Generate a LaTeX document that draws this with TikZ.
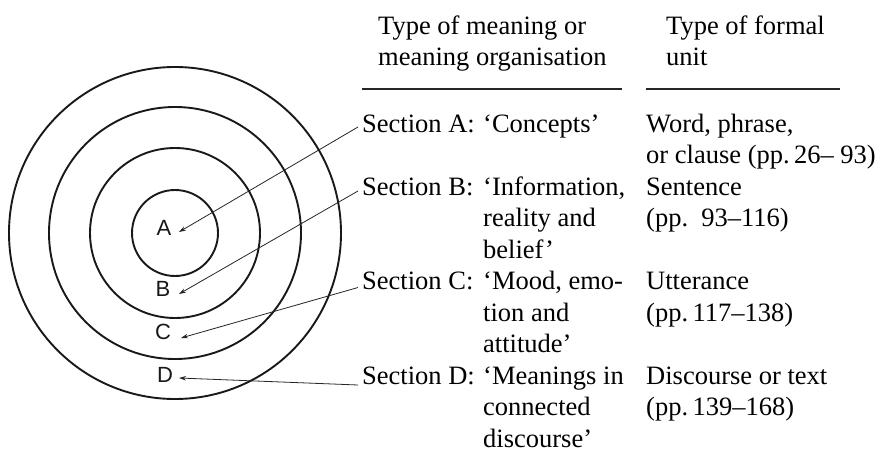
\documentclass[tikz,border=0pt]{standalone}
\usepackage{fontspec}
\setmainfont{Liberation Serif}
\newfontfamily\lettfont{Liberation Sans}
\usetikzlibrary{arrows.meta}
\tikzset{
  ring/.style={draw=black!90, line width=1.9pt},
  conn/.style={draw=black!85, line width=0.8pt, -{Stealth[length=7pt,width=4.5pt]}},
  rulestyle/.style={draw=black!85, line width=1.4pt},
  txt/.style={anchor=base west, inner sep=0pt, font=\fontsize{26.5}{31.5}\selectfont, text=black},
  lett/.style={anchor=center, inner sep=0pt, font=\lettfont\fontsize{22}{24}\selectfont, text=black!90}
}
\begin{document}
\begin{tikzpicture}[x=1pt,y=-1pt]
\useasboundingbox[fill=white] (0,0) rectangle (881,452);
% concentric circles
\coordinate (ctr) at (175,233);
\draw[ring] (ctr) circle (43pt);
\draw[ring] (ctr) circle (85pt);
\draw[ring] (ctr) circle (126pt);
\draw[ring] (ctr) circle (166pt);
% letters
\node[lett] (lA) at (164,228) {A};
\node[lett] (lB) at (163,289) {B};
\node[lett] (lC) at (163,332) {C};
\node[lett] (lD) at (165,375) {D};
\coordinate (tA) at (179,232);
\coordinate (tB) at (179,294);
\coordinate (tC) at (181,338);
\coordinate (tD) at (179,378);
% headers
\node[txt] (h1a) at (378,35) {Type of meaning or};
\node[txt] (h1b) at (378,66) {meaning organisation};
\node[txt] (h2a) at (666,35) {Type of formal};
\node[txt] (h2b) at (666,66) {unit};
\coordinate (r1s) at (362,89); \coordinate (r1e) at (622,89);
\coordinate (r2s) at (646,89); \coordinate (r2e) at (840,89);
\draw[rulestyle] (r1s) -- (r1e);
\draw[rulestyle] (r2s) -- (r2e);
% column 1
\node[txt] (sA) at (362,132) {Section A:};
\node[txt] (dA) at (483,132) {‘Concepts’};
\node[txt] (sB) at (362,195) {Section B:};
\node[txt] (dB1) at (483,195) {‘Information,};
\node[txt] (dB2) at (483,226.5) {reality and};
\node[txt] (dB3) at (483,258) {belief’};
\node[txt] (sC) at (362,289.5) {Section C:};
\node[txt] (dC1) at (483,289.5) {‘Mood, emo-};
\node[txt] (dC2) at (483,321) {tion and};
\node[txt] (dC3) at (483,352.5) {attitude’};
\node[txt] (sD) at (362,384) {Section D:};
\node[txt] (dD1) at (483,384) {‘Meanings in};
\node[txt] (dD2) at (483,415.5) {connected};
\node[txt] (dD3) at (483,447) {discourse’};
% column 2
\node[txt] (uA1) at (646,132) {Word, phrase,};
\node[txt] (uA2) at (646,163.5) {or clause (pp.\,26– 93)};
\node[txt] (uB1) at (646,195) {Sentence};
\node[txt] (uB2) at (646,226.5) {(pp.\ \ 93–116)};
\node[txt] (uC1) at (646,289.5) {Utterance};
\node[txt] (uC2) at (646,321) {(pp.\,117–138)};
\node[txt] (uD1) at (646,384) {Discourse or text};
\node[txt] (uD2) at (646,415.5) {(pp.\,139–168)};
% connectors
\coordinate (eA) at ([xshift=-4pt,yshift=5pt]sA.base west);
\coordinate (eB) at ([xshift=-4pt,yshift=4pt]sB.base west);
\coordinate (eC) at ([xshift=-4pt,yshift=2pt]sC.base west);
\coordinate (eD) at ([xshift=-4pt,yshift=-1pt]sD.base west);
\draw[conn] (eA) -- (tA);
\draw[conn] (eB) -- (tB);
\draw[conn] (eC) -- (tC);
\draw[conn] (eD) -- (tD);
\end{tikzpicture}
\end{document}
